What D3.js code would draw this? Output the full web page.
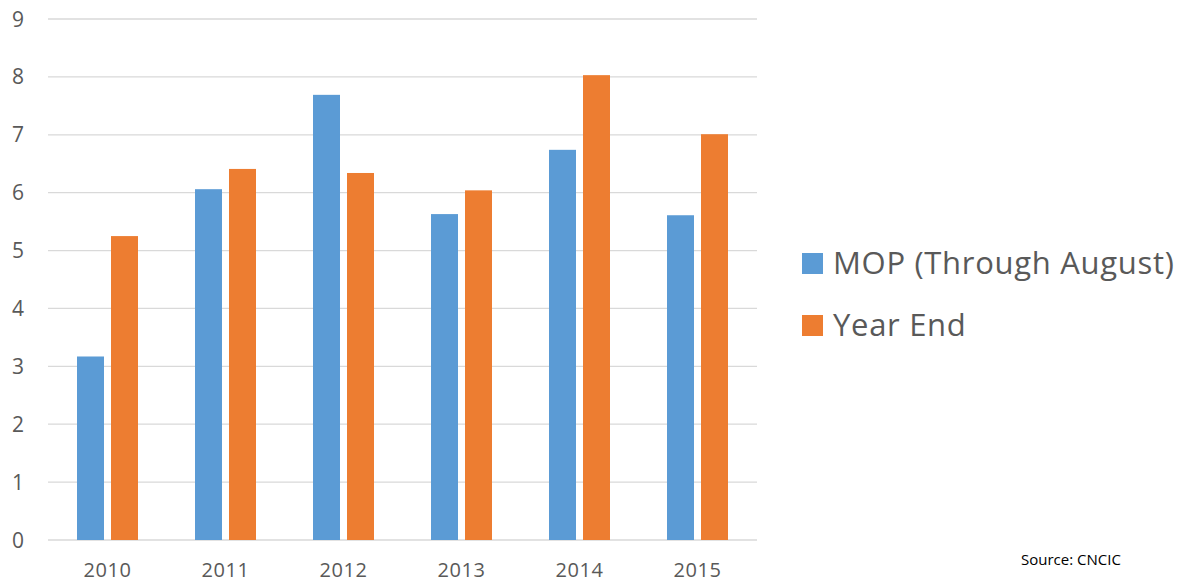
<!DOCTYPE html>
<html><head><meta charset="utf-8">
<script src="https://cdn.jsdelivr.net/npm/d3@7"></script>
<style>body{margin:0;background:#fff;} text{font-family:"Open Sans",Lato,sans-serif;}</style>
</head><body><svg id="c" width="1184" height="582"></svg>
<script>
const categories = ["2010","2011","2012","2013","2014","2015"];
const seriesNames = ["MOP (Through August)","Year End"];
const mop = [3.17,6.06,7.69,5.63,6.74,5.61];
const yearEnd = [5.25,6.41,6.34,6.04,8.03,7.01];
const yTicks = [0,1,2,3,4,5,6,7,8,9];
const colors = ["#5B9BD5","#ED7D31"];

const svg = d3.select("#c");
const x = d3.scaleBand().domain(categories).range([48.5,756.5]);
const y = d3.scaleLinear().domain([0,9]).range([540,19]);
const barW = 27, gap = 7;
const grpW = barW*2+gap;

// gridlines
svg.append("g").selectAll("line").data(yTicks).join("line")
  .attr("x1",48).attr("x2",757)
  .attr("y1",d=>y(d)).attr("y2",d=>y(d))
  .attr("stroke","#D9D9D9").attr("stroke-width",1.3);

// y labels
svg.append("g").selectAll("text").data(yTicks).join("text")
  .attr("x",24).attr("y",d=>y(d)+7.5).attr("text-anchor","end")
  .attr("font-size",21).attr("fill","#595959").text(d=>d);

// x labels
svg.append("g").selectAll("text").data(categories).join("text")
  .attr("x",d=>x(d)+x.bandwidth()/2).attr("y",577).attr("text-anchor","middle")
  .attr("font-size",20).attr("letter-spacing",0.6).attr("fill","#595959").text(d=>d);

const series = [mop, yearEnd];
series.forEach((vals,si)=>{
  svg.append("g").selectAll("rect").data(vals).join("rect")
    .attr("x",(d,i)=>x(categories[i])+(x.bandwidth()-grpW)/2+si*(barW+gap))
    .attr("width",barW)
    .attr("y",d=>y(d)).attr("height",d=>y(0)-y(d))
    .attr("fill",colors[si]);
});

// legend
const lg = svg.append("g");
seriesNames.forEach((n,i)=>{
  const yy = 253 + i*62;
  lg.append("rect").attr("x",802).attr("y",yy).attr("width",21).attr("height",21).attr("fill",colors[i]);
  lg.append("text").attr("x",833).attr("y",yy+21).attr("font-size",31).attr("letter-spacing",0.7).attr("fill","#595959").text(n);
});

svg.append("text").attr("x",1021).attr("y",565).attr("font-size",15).attr("fill","#000").text("Source: CNCIC");
</script></body></html>
